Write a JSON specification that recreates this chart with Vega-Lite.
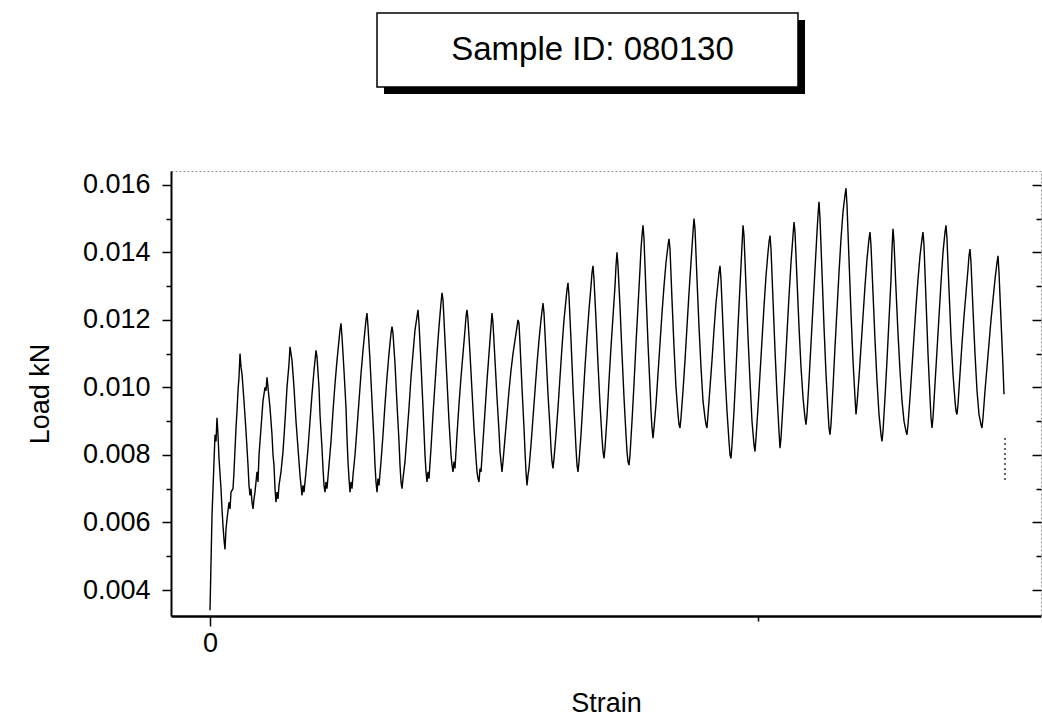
{
  "$schema": "https://vega.github.io/schema/vega-lite/v6.json",
  "background": "white",
  "padding": {"left": 25, "top": 12, "right": 0, "bottom": 5},
  "config": {"font": "Liberation Sans", "view": {"stroke": null}},
  "datasets": {
    "titlebox": [{"label": "Sample ID: 080130"}],
    "stray": [{"s": 795, "v": 0.0085}, {"s": 795, "v": 0.0072}],
    "load": [
      {"s":0,"v":0.0034},{"s":1,"v":0.0048},{"s":2,"v":0.0062},{"s":4,"v":0.0078},{"s":5,"v":0.0086},{"s":6,"v":0.0084},{"s":7,"v":0.0091},{"s":8,"v":0.0086},{"s":9,"v":0.0079},{"s":11,"v":0.0070},{"s":12,"v":0.0064},{"s":13,"v":0.0059},{"s":14,"v":0.0055},{"s":15,"v":0.0052},{"s":16,"v":0.0058},{"s":17,"v":0.0061},{"s":19,"v":0.0066},{"s":20,"v":0.0064},{"s":21,"v":0.0069},{"s":23,"v":0.0070},{"s":24,"v":0.0075},{"s":26,"v":0.0088},{"s":27,"v":0.0093},{"s":28,"v":0.0099},{"s":29,"v":0.0103},{"s":30,"v":0.0110},{"s":31,"v":0.0106},{"s":32,"v":0.0104},{"s":34,"v":0.0096},{"s":36,"v":0.0087},{"s":38,"v":0.0077},{"s":39,"v":0.0071},{"s":40,"v":0.0068},{"s":41,"v":0.0070},{"s":42,"v":0.0066},{"s":43,"v":0.0064},{"s":44,"v":0.0067},{"s":45,"v":0.0069},{"s":47,"v":0.0075},{"s":48,"v":0.0072},{"s":49,"v":0.0080},{"s":51,"v":0.0088},{"s":53,"v":0.0096},{"s":55,"v":0.0100},{"s":56,"v":0.0099},{"s":57,"v":0.0103},{"s":58,"v":0.0100},{"s":60,"v":0.0094},{"s":62,"v":0.0086},{"s":63,"v":0.0080},{"s":64,"v":0.0077},{"s":65,"v":0.0070},{"s":66,"v":0.0066},{"s":67,"v":0.0069},{"s":68,"v":0.0067},{"s":69,"v":0.0071},{"s":71,"v":0.0075},{"s":73,"v":0.0081},{"s":75,"v":0.0090},{"s":77,"v":0.0100},{"s":79,"v":0.0107},{"s":80,"v":0.0112},{"s":81,"v":0.0110},{"s":82,"v":0.0108},{"s":84,"v":0.0100},{"s":86,"v":0.0090},{"s":88,"v":0.0082},{"s":90,"v":0.0074},{"s":91,"v":0.0071},{"s":92,"v":0.0068},{"s":93,"v":0.0071},{"s":94,"v":0.0069},{"s":96,"v":0.0075},{"s":98,"v":0.0082},{"s":100,"v":0.0090},{"s":102,"v":0.0098},{"s":104,"v":0.0105},{"s":105,"v":0.0108},{"s":106,"v":0.0111},{"s":107,"v":0.0109},{"s":109,"v":0.0100},{"s":110,"v":0.0092},{"s":112,"v":0.0082},{"s":113,"v":0.0076},{"s":114,"v":0.0071},{"s":115,"v":0.0069},{"s":116,"v":0.0072},{"s":117,"v":0.0070},{"s":119,"v":0.0077},{"s":121,"v":0.0084},{"s":123,"v":0.0093},{"s":125,"v":0.0101},{"s":127,"v":0.0108},{"s":129,"v":0.0114},{"s":130,"v":0.0117},{"s":131,"v":0.0119},{"s":132,"v":0.0115},{"s":134,"v":0.0105},{"s":136,"v":0.0094},{"s":137,"v":0.0085},{"s":138,"v":0.0078},{"s":139,"v":0.0073},{"s":140,"v":0.0069},{"s":141,"v":0.0072},{"s":142,"v":0.0070},{"s":143,"v":0.0074},{"s":145,"v":0.0080},{"s":147,"v":0.0088},{"s":149,"v":0.0096},{"s":151,"v":0.0104},{"s":153,"v":0.0111},{"s":155,"v":0.0117},{"s":156,"v":0.0120},{"s":157,"v":0.0122},{"s":158,"v":0.0118},{"s":160,"v":0.0108},{"s":162,"v":0.0096},{"s":164,"v":0.0084},{"s":165,"v":0.0077},{"s":166,"v":0.0072},{"s":167,"v":0.0069},{"s":168,"v":0.0073},{"s":169,"v":0.0071},{"s":171,"v":0.0078},{"s":173,"v":0.0086},{"s":175,"v":0.0095},{"s":177,"v":0.0103},{"s":179,"v":0.0110},{"s":181,"v":0.0116},{"s":182,"v":0.0118},{"s":183,"v":0.0116},{"s":185,"v":0.0107},{"s":187,"v":0.0095},{"s":189,"v":0.0084},{"s":190,"v":0.0077},{"s":191,"v":0.0072},{"s":192,"v":0.0070},{"s":193,"v":0.0073},{"s":195,"v":0.0078},{"s":197,"v":0.0086},{"s":199,"v":0.0094},{"s":201,"v":0.0103},{"s":203,"v":0.0110},{"s":205,"v":0.0117},{"s":207,"v":0.0121},{"s":208,"v":0.0123},{"s":209,"v":0.0119},{"s":211,"v":0.0107},{"s":213,"v":0.0094},{"s":214,"v":0.0087},{"s":215,"v":0.0080},{"s":216,"v":0.0075},{"s":217,"v":0.0072},{"s":218,"v":0.0075},{"s":219,"v":0.0073},{"s":221,"v":0.0082},{"s":223,"v":0.0092},{"s":225,"v":0.0101},{"s":227,"v":0.0110},{"s":229,"v":0.0118},{"s":231,"v":0.0125},{"s":232,"v":0.0128},{"s":233,"v":0.0126},{"s":235,"v":0.0114},{"s":237,"v":0.0102},{"s":239,"v":0.0090},{"s":241,"v":0.0080},{"s":242,"v":0.0077},{"s":243,"v":0.0075},{"s":244,"v":0.0078},{"s":245,"v":0.0076},{"s":247,"v":0.0086},{"s":249,"v":0.0095},{"s":251,"v":0.0103},{"s":253,"v":0.0110},{"s":255,"v":0.0117},{"s":256,"v":0.0121},{"s":257,"v":0.0123},{"s":258,"v":0.0120},{"s":260,"v":0.0110},{"s":262,"v":0.0099},{"s":264,"v":0.0088},{"s":266,"v":0.0079},{"s":267,"v":0.0075},{"s":268,"v":0.0073},{"s":269,"v":0.0072},{"s":270,"v":0.0076},{"s":271,"v":0.0075},{"s":273,"v":0.0084},{"s":275,"v":0.0093},{"s":277,"v":0.0102},{"s":279,"v":0.0110},{"s":281,"v":0.0118},{"s":282,"v":0.0122},{"s":283,"v":0.0119},{"s":285,"v":0.0108},{"s":287,"v":0.0097},{"s":289,"v":0.0087},{"s":290,"v":0.0081},{"s":291,"v":0.0078},{"s":292,"v":0.0075},{"s":293,"v":0.0078},{"s":295,"v":0.0085},{"s":297,"v":0.0092},{"s":299,"v":0.0099},{"s":301,"v":0.0105},{"s":303,"v":0.0110},{"s":305,"v":0.0114},{"s":307,"v":0.0118},{"s":308,"v":0.0120},{"s":309,"v":0.0119},{"s":310,"v":0.0113},{"s":312,"v":0.0100},{"s":314,"v":0.0088},{"s":315,"v":0.0081},{"s":316,"v":0.0075},{"s":317,"v":0.0071},{"s":318,"v":0.0074},{"s":319,"v":0.0076},{"s":321,"v":0.0083},{"s":323,"v":0.0091},{"s":325,"v":0.0099},{"s":327,"v":0.0107},{"s":329,"v":0.0114},{"s":331,"v":0.0120},{"s":333,"v":0.0125},{"s":334,"v":0.0122},{"s":336,"v":0.0110},{"s":338,"v":0.0098},{"s":340,"v":0.0088},{"s":341,"v":0.0082},{"s":342,"v":0.0078},{"s":343,"v":0.0076},{"s":344,"v":0.0079},{"s":346,"v":0.0086},{"s":348,"v":0.0094},{"s":350,"v":0.0103},{"s":352,"v":0.0112},{"s":354,"v":0.0120},{"s":356,"v":0.0126},{"s":357,"v":0.0129},{"s":358,"v":0.0131},{"s":359,"v":0.0127},{"s":361,"v":0.0114},{"s":363,"v":0.0100},{"s":365,"v":0.0088},{"s":366,"v":0.0082},{"s":367,"v":0.0077},{"s":368,"v":0.0075},{"s":369,"v":0.0078},{"s":371,"v":0.0086},{"s":373,"v":0.0096},{"s":375,"v":0.0106},{"s":377,"v":0.0115},{"s":379,"v":0.0123},{"s":381,"v":0.0130},{"s":382,"v":0.0134},{"s":383,"v":0.0136},{"s":384,"v":0.0132},{"s":386,"v":0.0120},{"s":388,"v":0.0107},{"s":390,"v":0.0095},{"s":392,"v":0.0085},{"s":393,"v":0.0081},{"s":394,"v":0.0079},{"s":395,"v":0.0082},{"s":397,"v":0.0091},{"s":399,"v":0.0102},{"s":401,"v":0.0112},{"s":403,"v":0.0121},{"s":405,"v":0.0130},{"s":406,"v":0.0136},{"s":407,"v":0.0140},{"s":408,"v":0.0136},{"s":410,"v":0.0124},{"s":412,"v":0.0110},{"s":414,"v":0.0097},{"s":416,"v":0.0086},{"s":417,"v":0.0081},{"s":418,"v":0.0078},{"s":419,"v":0.0077},{"s":420,"v":0.0080},{"s":422,"v":0.0090},{"s":424,"v":0.0101},{"s":426,"v":0.0113},{"s":428,"v":0.0124},{"s":430,"v":0.0135},{"s":431,"v":0.0141},{"s":432,"v":0.0145},{"s":433,"v":0.0148},{"s":434,"v":0.0144},{"s":436,"v":0.0128},{"s":438,"v":0.0113},{"s":440,"v":0.0100},{"s":441,"v":0.0093},{"s":442,"v":0.0088},{"s":443,"v":0.0085},{"s":444,"v":0.0088},{"s":446,"v":0.0095},{"s":448,"v":0.0104},{"s":450,"v":0.0113},{"s":452,"v":0.0122},{"s":454,"v":0.0130},{"s":456,"v":0.0137},{"s":458,"v":0.0142},{"s":459,"v":0.0144},{"s":460,"v":0.0141},{"s":462,"v":0.0126},{"s":464,"v":0.0112},{"s":466,"v":0.0100},{"s":468,"v":0.0092},{"s":469,"v":0.0089},{"s":470,"v":0.0088},{"s":471,"v":0.0091},{"s":473,"v":0.0099},{"s":475,"v":0.0108},{"s":477,"v":0.0118},{"s":479,"v":0.0128},{"s":481,"v":0.0137},{"s":483,"v":0.0146},{"s":484,"v":0.0150},{"s":485,"v":0.0147},{"s":487,"v":0.0132},{"s":489,"v":0.0118},{"s":491,"v":0.0106},{"s":493,"v":0.0096},{"s":495,"v":0.0091},{"s":496,"v":0.0089},{"s":497,"v":0.0088},{"s":498,"v":0.0092},{"s":500,"v":0.0100},{"s":502,"v":0.0108},{"s":504,"v":0.0117},{"s":506,"v":0.0125},{"s":508,"v":0.0131},{"s":509,"v":0.0134},{"s":510,"v":0.0136},{"s":511,"v":0.0132},{"s":513,"v":0.0118},{"s":515,"v":0.0104},{"s":517,"v":0.0093},{"s":519,"v":0.0084},{"s":520,"v":0.0080},{"s":521,"v":0.0079},{"s":522,"v":0.0083},{"s":524,"v":0.0093},{"s":526,"v":0.0105},{"s":528,"v":0.0118},{"s":530,"v":0.0130},{"s":532,"v":0.0142},{"s":533,"v":0.0148},{"s":534,"v":0.0145},{"s":536,"v":0.0130},{"s":538,"v":0.0115},{"s":540,"v":0.0102},{"s":542,"v":0.0090},{"s":544,"v":0.0083},{"s":545,"v":0.0081},{"s":546,"v":0.0085},{"s":548,"v":0.0094},{"s":550,"v":0.0104},{"s":552,"v":0.0114},{"s":554,"v":0.0124},{"s":556,"v":0.0133},{"s":558,"v":0.0140},{"s":559,"v":0.0143},{"s":560,"v":0.0145},{"s":561,"v":0.0141},{"s":563,"v":0.0126},{"s":565,"v":0.0111},{"s":567,"v":0.0098},{"s":569,"v":0.0087},{"s":570,"v":0.0082},{"s":571,"v":0.0085},{"s":573,"v":0.0095},{"s":575,"v":0.0105},{"s":577,"v":0.0116},{"s":579,"v":0.0127},{"s":581,"v":0.0137},{"s":583,"v":0.0145},{"s":584,"v":0.0149},{"s":585,"v":0.0146},{"s":587,"v":0.0132},{"s":589,"v":0.0118},{"s":591,"v":0.0106},{"s":593,"v":0.0097},{"s":595,"v":0.0091},{"s":596,"v":0.0089},{"s":597,"v":0.0092},{"s":599,"v":0.0102},{"s":601,"v":0.0113},{"s":603,"v":0.0124},{"s":605,"v":0.0135},{"s":607,"v":0.0146},{"s":608,"v":0.0151},{"s":609,"v":0.0155},{"s":610,"v":0.0150},{"s":612,"v":0.0134},{"s":614,"v":0.0118},{"s":616,"v":0.0104},{"s":618,"v":0.0093},{"s":619,"v":0.0088},{"s":620,"v":0.0086},{"s":621,"v":0.0089},{"s":623,"v":0.0100},{"s":625,"v":0.0112},{"s":627,"v":0.0123},{"s":629,"v":0.0134},{"s":631,"v":0.0144},{"s":633,"v":0.0152},{"s":635,"v":0.0157},{"s":636,"v":0.0159},{"s":637,"v":0.0154},{"s":639,"v":0.0138},{"s":641,"v":0.0122},{"s":643,"v":0.0108},{"s":645,"v":0.0097},{"s":646,"v":0.0092},{"s":647,"v":0.0095},{"s":649,"v":0.0103},{"s":651,"v":0.0112},{"s":653,"v":0.0121},{"s":655,"v":0.0130},{"s":657,"v":0.0138},{"s":659,"v":0.0144},{"s":660,"v":0.0146},{"s":661,"v":0.0142},{"s":663,"v":0.0128},{"s":665,"v":0.0114},{"s":667,"v":0.0102},{"s":669,"v":0.0092},{"s":671,"v":0.0086},{"s":672,"v":0.0084},{"s":673,"v":0.0087},{"s":675,"v":0.0097},{"s":677,"v":0.0108},{"s":679,"v":0.0120},{"s":681,"v":0.0132},{"s":682,"v":0.0141},{"s":683,"v":0.0147},{"s":684,"v":0.0143},{"s":686,"v":0.0129},{"s":688,"v":0.0116},{"s":690,"v":0.0105},{"s":692,"v":0.0096},{"s":694,"v":0.0090},{"s":696,"v":0.0087},{"s":697,"v":0.0086},{"s":698,"v":0.0089},{"s":700,"v":0.0097},{"s":702,"v":0.0106},{"s":704,"v":0.0115},{"s":706,"v":0.0124},{"s":708,"v":0.0132},{"s":710,"v":0.0139},{"s":712,"v":0.0144},{"s":713,"v":0.0146},{"s":714,"v":0.0142},{"s":716,"v":0.0126},{"s":718,"v":0.0110},{"s":720,"v":0.0097},{"s":721,"v":0.0091},{"s":722,"v":0.0088},{"s":723,"v":0.0091},{"s":725,"v":0.0101},{"s":727,"v":0.0111},{"s":729,"v":0.0121},{"s":731,"v":0.0131},{"s":733,"v":0.0140},{"s":735,"v":0.0146},{"s":736,"v":0.0148},{"s":737,"v":0.0144},{"s":739,"v":0.0129},{"s":741,"v":0.0115},{"s":743,"v":0.0104},{"s":745,"v":0.0096},{"s":746,"v":0.0093},{"s":747,"v":0.0092},{"s":748,"v":0.0095},{"s":750,"v":0.0104},{"s":752,"v":0.0113},{"s":754,"v":0.0121},{"s":756,"v":0.0128},{"s":758,"v":0.0135},{"s":759,"v":0.0139},{"s":760,"v":0.0141},{"s":761,"v":0.0137},{"s":763,"v":0.0123},{"s":765,"v":0.0110},{"s":767,"v":0.0099},{"s":769,"v":0.0092},{"s":771,"v":0.0089},{"s":772,"v":0.0088},{"s":773,"v":0.0091},{"s":775,"v":0.0099},{"s":777,"v":0.0106},{"s":779,"v":0.0113},{"s":781,"v":0.0120},{"s":783,"v":0.0126},{"s":785,"v":0.0132},{"s":787,"v":0.0137},{"s":788,"v":0.0139},{"s":789,"v":0.0134},{"s":791,"v":0.0120},{"s":793,"v":0.0106},{"s":794,"v":0.0098}
    ]
  },
  "bounds": "flush",
  "spacing": 158,
  "vconcat": [
    {
      "spacing": 10,
      "bounds": "flush",
      "hconcat": [
        {
          "width": 196,
          "height": 74,
          "data": {"name": "titlebox"},
          "mark": {"type": "rect", "opacity": 0},
          "encoding": {}
        },
        {
          "width": 421,
          "height": 74,
          "data": {"name": "titlebox"},
          "layer": [
            {"mark": {"type": "rect", "fill": "black", "xOffset": 7, "x2Offset": 7, "yOffset": 7, "y2Offset": 7},
              "encoding": {"x": {"value": 0}, "x2": {"value": "width"}, "y": {"value": 0}, "y2": {"value": "height"}}},
            {"mark": {"type": "rect", "fill": "white", "stroke": "black", "strokeWidth": 1.5},
              "encoding": {"x": {"value": 0}, "x2": {"value": "width"}, "y": {"value": 0}, "y2": {"value": "height"}}},
            {"mark": {"type": "text", "fontSize": 33, "font": "Liberation Sans", "color": "black", "dx": 5}, "encoding": {"text": {"field": "label"}}}
          ]
        }
      ]
    },
    {
      "width": 870,
      "height": 445,
      "view": {"stroke": "#9a9a9a", "strokeDash": [2, 2], "strokeWidth": 1},
      "encoding": {
        "x": {"field": "s", "type": "quantitative", "scale": {"domain": [-39, 831], "nice": false, "zero": false},
          "axis": {"values": [0, 548], "labelExpr": "datum.value === 0 ? '0' : ''", "grid": false,
            "domainColor": "black", "domainWidth": 2.5, "tickColor": "black", "tickWidth": 1.5,
            "tickSize": {"condition": {"test": "datum.value === 0", "value": 10}, "value": 5},
            "labelFontSize": 27, "labelColor": "black", "labelPadding": 4, "labelFont": "Liberation Sans",
            "title": "Strain", "titleFontSize": 27, "titleFontWeight": "normal", "titleColor": "black", "titlePadding": 34, "titleFont": "Liberation Sans"}}
      },
      "layer": [
        {
          "data": {"name": "load"},
          "mark": {"type": "line", "color": "black", "strokeWidth": 1.4},
          "encoding": {
            "y": {"field": "v", "type": "quantitative", "scale": {"domain": [0.00323, 0.01641], "nice": false, "zero": false},
              "axis": {"values": [0.004, 0.005, 0.006, 0.007, 0.008, 0.009, 0.010, 0.011, 0.012, 0.013, 0.014, 0.015, 0.016],
                "labelExpr": "round(datum.value*1000) % 2 === 0 ? format(datum.value, '.3f') : ''",
                "grid": false, "domainColor": "black", "domainWidth": 2, "tickColor": "black", "tickWidth": 1.5,
                "tickSize": {"condition": {"test": "round(datum.value*1000) % 2 === 0", "value": 9}, "value": 5},
                "labelFontSize": 27, "labelColor": "black", "labelPadding": 12, "labelFont": "Liberation Sans",
                "title": "Load kN", "titleFontSize": 27, "titleFontWeight": "normal", "titleColor": "black", "titlePadding": 28, "titleFont": "Liberation Sans"}}
          }
        },
        {
          "data": {"name": "stray"},
          "mark": {"type": "line", "color": "black", "strokeWidth": 1.2, "strokeDash": [2, 3]},
          "encoding": {
            "y": {"field": "v", "type": "quantitative", "axis": null}
          }
        },
        {
          "data": {"name": "load"},
          "mark": {"type": "line", "opacity": 0},
          "encoding": {
            "y": {"field": "v", "type": "quantitative",
              "axis": {"orient": "right", "values": [0.004, 0.005, 0.006, 0.007, 0.008, 0.009, 0.010, 0.011, 0.012, 0.013, 0.014, 0.015, 0.016],
                "labels": false, "title": null, "domain": false, "grid": false, "tickColor": "black", "tickWidth": 1.5,
                "tickSize": {"condition": {"test": "round(datum.value*1000) % 2 === 0", "value": -9}, "value": -5}}}
          }
        }
      ],
      "resolve": {"axis": {"y": "independent"}}
    }
  ]
}
